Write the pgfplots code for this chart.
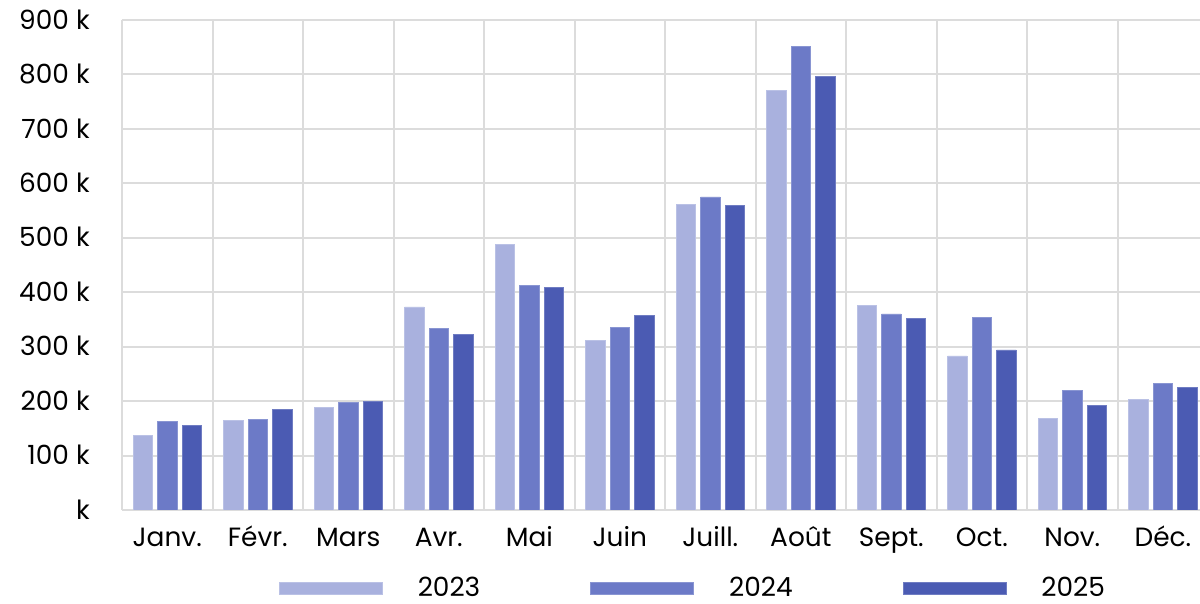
\documentclass[border=0pt]{standalone}
\usepackage{fontspec}
\setmainfont{Poppins}
\usepackage{pgfplots}
\pgfplotsset{compat=1.18}
\definecolor{cA}{HTML}{A9B1DE}
\definecolor{cB}{HTML}{6C7AC7}
\definecolor{cC}{HTML}{4B5BB3}
\definecolor{gridc}{HTML}{DCDCDC}
\newcommand{\lf}{\fontsize{13.2}{15}\selectfont}
\begin{document}
\begin{tikzpicture}
\begin{axis}[
  name=ax,
  scale only axis,
  width=539pt, height=245pt,
  ybar,
  bar width=9.75pt,
  xmin=-0.5, xmax=11.41,
  ymin=0, ymax=900,
  xtick={0,...,11},
  xticklabels={Janv.,Févr.,Mars,Avr.,Mai,Juin,Juill.,Août,Sept.,Oct.,Nov.,Déc.},
  minor xtick={-0.5,0.5,...,11.5},
  ytick={0,100,...,900},
  yticklabels={k,100 k,200 k,300 k,400 k,500 k,600 k,700 k,800 k,900 k},
  major tick length=0pt, minor tick length=0pt,
  axis line style={draw=none},
  ymajorgrids, xminorgrids,
  grid style={gridc, line width=1pt},
  minor grid style={gridc, line width=1pt},
  tick label style={font=\lf, inner sep=0pt},
  xticklabel style={anchor=base, yshift=-18.4pt},
  yticklabel style={anchor=base east, xshift=-16pt, yshift=-4.6pt},
  legend style={at={(axis description cs:0.5306,-0.159)}, anchor=center, draw=none, fill=none,
    font=\lf, legend columns=3, /tikz/every even column/.append style={column sep=53pt},
    inner sep=0pt},
  legend image code/.code={\draw[line width=0.4pt] (0pt,-3pt) rectangle (51.5pt,3pt);},
]
\addplot[bar shift=-12.25pt, fill=cA, draw=cA!80!white, line width=0.4pt] coordinates {
(0,137) (1,164) (2,189) (3,373) (4,487) (5,311) (6,561) (7,770) (8,375) (9,283) (10,168) (11,203)};
\addplot[bar shift=0pt, fill=cB, draw=cB!80!white, line width=0.4pt] coordinates {
(0,162) (1,167) (2,198) (3,333) (4,412) (5,335) (6,575) (7,852) (8,360) (9,353) (10,219) (11,232)};
\addplot[bar shift=12.25pt, fill=cC, draw=cC!80!white, line width=0.4pt] coordinates {
(0,156) (1,185) (2,200) (3,322) (4,408) (5,357) (6,559) (7,797) (8,351) (9,294) (10,192) (11,225)};
\legend{\hspace{15.5pt}2023,\hspace{15.5pt}2024,\hspace{15.5pt}2025}
\end{axis}
\pgfresetboundingbox
\path[use as bounding box] ([shift={(-61pt,-47pt)}]ax.south west) rectangle ([shift={(0pt,10pt)}]ax.north east);
\end{tikzpicture}
\end{document}
